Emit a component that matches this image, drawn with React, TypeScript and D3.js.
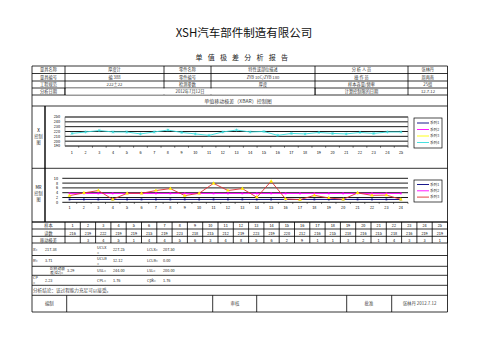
import React from "react";
import * as d3 from "d3";

// ---------- data ----------
const samples = d3.range(1, 26).map(String);
const readings = [216, 219, 222, 219, 219, 215, 219, 223, 218, 215, 212, 219, 223, 219, 220, 212, 216, 215, 218, 216, 215, 218, 216, 219, 219];
const mrSamples = d3.range(1, 25).map(String);
const mrValues = [2.8, 3.9, 4.9, 1.25, 3.75, 3.75, 4.9, 5.7, 2.8, 3.75, 7.9, 4.9, 5.7, 2.1, 8.75, 1.4, 1.1, 2.9, 1.8, 1.25, 3.9, 2.9, 3.0, 1.25];
const mrTable = ["", "3", "4", "5", "1", "4", "4", "5", "6", "3", "4", "8", "5", "6", "2", "9", "1", "1", "3", "2", "1", "4", "3", "3", "1"];
const xTicks = [190, 200, 210, 220, 230, 240, 250];
const mrTicks = [0, 2, 4, 6, 8, 10];
const mrLcl = 1.2;
const mrCl = 3.71;
const xLegend = ["系列1", "系列2", "系列3", "系列4"];
const mrLegend = ["系列1", "系列2", "系列3"];

const headerRows = [
  ["量具名称", "厚度计", "零件名称", "特性或部位描述", "分 析 人 员", "张林丹"],
  ["量具编号", "编 388", "零件编号", "ZYB 10C/ZYB 180", "操 作 员", "周再南"],
  ["工程规范", "222±22", "检测参数", "厚度", "样本容量/频率", "25组"],
];

const FONT = "'Noto Sans CJK SC', 'DejaVu Sans', sans-serif";
const SERIF = "'Noto Sans CJK SC', serif";
const TXT = "#333";

export default function App() {
  const L = 32, R = 447.5;
  const cols = [32, 65, 164, 211, 315, 408, 447.5];
  const rowsY = [66, 73.5, 81, 88, 95, 106];
  const fs = 4.2;

  // X chart
  const x1 = d3.scalePoint<string>().domain(samples).range([65, 408]).padding(0.5);
  const y1 = d3.scaleLinear().domain([190, 250]).range([146, 117]);
  const line1 = d3.line<number>().x((_, i) => x1(samples[i])!).y((d) => y1(d));

  // MR chart
  const x2 = d3.scalePoint<string>().domain(mrSamples).range([62.3, 408]).padding(0.5);
  const y2 = d3.scaleLinear().domain([0, 10]).range([202.3, 178.3]);
  const line2 = d3.line<number>().x((_, i) => x2(mrSamples[i])!).y((d) => y2(d));

  const tableCols = d3.scaleBand<string>().domain(samples).range([65, R]);
  const bRows = [222, 229, 236.3, 243, 255.5, 266.3, 275.3, 285.3, 295.3, 312];

  const star = (cx: number, cy: number, s: number) =>
    `M${cx - s},${cy - s}L${cx + s},${cy + s}M${cx - s},${cy + s}L${cx + s},${cy - s}M${cx},${cy - s * 1.3}L${cx},${cy + s * 1.3}`;

  return (
    <svg width={503} height={356} style={{ position: "absolute", left: 0, top: 0, background: "#fff" }}>
      <text x={244} y={37} fontSize={11.5} textAnchor="middle" fontFamily={FONT} fill="#111">XSH汽车部件制造有限公司</text>
      {"单值极差分析报告".split("").map((c, i) => (
        <text key={i} x={199 + i * 12.2} y={60} fontSize={7} textAnchor="middle" fontFamily={SERIF} fill="#222">{c}</text>
      ))}

      {/* header table */}
      <g stroke="#000" strokeWidth={0.8}>
        {rowsY.map((y, i) => <line key={i} x1={L} x2={R} y1={y} y2={y} />)}
        {cols.map((x, i) => (
          <line key={i} x1={x} x2={x} y1={66} y2={i === 0 || i === cols.length - 1 ? 106 : 95} />
        ))}
      </g>
      <rect x={65.5} y={88.5} width={249} height={6} fill="#fff" />
      <line x1={65} x2={65} y1={88} y2={95} stroke="#000" strokeWidth={0.8} />
      <line x1={315} x2={315} y1={88} y2={95} stroke="#000" strokeWidth={0.8} />
      {headerRows.map((row, ri) =>
        row.map((t, ci) => (
          <text key={ri + "-" + ci} x={(cols[ci] + cols[ci + 1]) / 2} y={rowsY[ri] + 5.2} fontSize={fs} textAnchor="middle" fontFamily={FONT} fill={TXT}>{t}</text>
        ))
      )}
      <text x={48.5} y={93.2} fontSize={fs} textAnchor="middle" fontFamily={FONT} fill={TXT}>分析日期</text>
      <text x={190} y={93.2} fontSize={fs} textAnchor="middle" fontFamily={FONT} fill={TXT}>2012年7月12日</text>
      <text x={361.5} y={93.2} fontSize={fs} textAnchor="middle" fontFamily={FONT} fill={TXT}>计算控制限的日期</text>
      <text x={428} y={93.2} fontSize={fs} textAnchor="middle" fontFamily={FONT} fill={TXT}>12.7.12</text>
      <text x={238} y={102.5} fontSize={5} textAnchor="middle" fontFamily={FONT} fill="#444">单值移动极差（XBAR）控制图</text>

      {/* chart section frames */}
      <g stroke="#000" strokeWidth={0.8} fill="none">
        <line x1={L} x2={L} y1={106} y2={312} />
        <line x1={R} x2={R} y1={106} y2={312} />
        <line x1={45} x2={45} y1={106} y2={222} strokeWidth={1.4} />
        <line x1={L} x2={R} y1={168.3} y2={168.3} />
        <line x1={L} x2={R} y1={222} y2={222} />
      </g>
      <text x={38.5} y={132} fontSize={4.5} textAnchor="middle" fontFamily={FONT}>X</text>
      <text x={38.5} y={137.5} fontSize={4.2} textAnchor="middle" fontFamily={FONT} fill="#444">控制</text>
      <text x={38.5} y={143.5} fontSize={4.2} textAnchor="middle" fontFamily={FONT} fill="#444">图</text>
      <text x={38.5} y={189} fontSize={4.2} textAnchor="middle" fontFamily={FONT}>MR</text>
      <text x={38.5} y={194.5} fontSize={4.2} textAnchor="middle" fontFamily={FONT} fill="#444">控制</text>
      <text x={38.5} y={200.5} fontSize={4.2} textAnchor="middle" fontFamily={FONT} fill="#444">图</text>

      {/* X chart */}
      <g>
        {xTicks.map((t) => (
          <g key={t}>
            <line x1={65} x2={408} y1={y1(t)} y2={y1(t)} stroke="#000" strokeWidth={0.9} />
            <text x={60} y={y1(t) + 1.4} fontSize={3.8} textAnchor="end" fontFamily={FONT}>{t}</text>
          </g>
        ))}
        <rect x={65} y={117} width={343} height={29} fill="none" stroke="#555" strokeWidth={0.6} />
        {samples.map((s) => (
          <g key={s}>
            <line x1={x1(s)! + x1.step() / 2} x2={x1(s)! + x1.step() / 2} y1={146} y2={147.8} stroke="#000" strokeWidth={0.5} />
            <text x={x1(s)} y={154} fontSize={3.8} textAnchor="middle" fontFamily={FONT}>{s}</text>
          </g>
        ))}
        <path d={line1(readings) || ""} fill="none" stroke="#33dddd" strokeWidth={0.9} />
        {readings.map((v, i) => (
          <path key={i} d={star(x1(samples[i])!, y1(v), 1.2)} stroke="#33dddd" strokeWidth={0.6} />
        ))}
        <rect x={414} y={118} width={28} height={30} fill="#fff" stroke="#000" strokeWidth={0.7} />
        {xLegend.map((t, i) => {
          const c = ["#000080", "#ff00ff", "#ffff00", "#33dddd"][i];
          const yy = 123 + i * 6.5;
          return (
            <g key={t}>
              <line x1={417} x2={429} y1={yy} y2={yy} stroke={c} strokeWidth={0.9} />
              <text x={430} y={yy + 1.3} fontSize={3.6} fontFamily={FONT} fill="#333">{t}</text>
            </g>
          );
        })}
      </g>

      {/* MR chart */}
      <g>
        {mrTicks.map((t) => (
          <g key={t}>
            <line x1={62.3} x2={408} y1={y2(t)} y2={y2(t)} stroke="#000" strokeWidth={0.9} />
            <text x={58} y={y2(t) + 1.4} fontSize={3.8} textAnchor="end" fontFamily={FONT}>{t}</text>
          </g>
        ))}
        {mrSamples.map((s) => (
          <g key={s}>
            <line x1={x2(s)! + x2.step() / 2} x2={x2(s)! + x2.step() / 2} y1={202.3} y2={204} stroke="#000" strokeWidth={0.5} />
            <text x={x2(s)} y={209} fontSize={3.8} textAnchor="middle" fontFamily={FONT}>{s}</text>
          </g>
        ))}
        <line x1={x2(mrSamples[0])} x2={x2(mrSamples[23])} y1={y2(mrLcl)} y2={y2(mrLcl)} stroke="#000080" strokeWidth={1} />
        {mrSamples.map((s) => <rect key={s} x={x2(s)! - 0.9} y={y2(mrLcl) - 0.9} width={1.8} height={1.8} fill="#000080" />)}
        <line x1={x2(mrSamples[0])} x2={x2(mrSamples[23])} y1={y2(mrCl)} y2={y2(mrCl)} stroke="#ff00ff" strokeWidth={1} />
        {mrSamples.map((s) => <rect key={s} x={x2(s)! - 0.9} y={y2(mrCl) - 0.9} width={1.8} height={1.8} fill="#ff00ff" />)}
        <path d={line2(mrValues) || ""} fill="none" stroke="#e03030" strokeWidth={0.9} />
        {mrValues.map((v, i) => (
          <path key={i} d={d3.symbol(d3.symbolTriangle, 6)()!} transform={`translate(${x2(mrSamples[i])},${y2(v)})`} fill="#ffee00" />
        ))}
        <rect x={414} y={180} width={28} height={22} fill="#fff" stroke="#000" strokeWidth={0.7} />
        {mrLegend.map((t, i) => {
          const c = ["#000080", "#ff00ff", "#e03030"][i];
          const yy = 184.5 + i * 6.3;
          return (
            <g key={t}>
              <line x1={417} x2={429} y1={yy} y2={yy} stroke={c} strokeWidth={0.9} />
              <text x={430} y={yy + 1.3} fontSize={3.6} fontFamily={FONT} fill="#333">{t}</text>
            </g>
          );
        })}
      </g>

      {/* bottom table */}
      <g stroke="#000" strokeWidth={0.8}>
        {bRows.map((y, i) => <line key={i} x1={L} x2={R} y1={y} y2={y} />)}
        <line x1={65} x2={65} y1={222} y2={243} />
        {samples.map((s) => <line key={s} x1={tableCols(s)! + tableCols.bandwidth()} x2={tableCols(s)! + tableCols.bandwidth()} y1={222} y2={243} />)}
        {[66.7, 212.7, 256.7, 346.7, 391.7].map((x) => <line key={x} x1={x} x2={x} y1={295.3} y2={312} />)}
      </g>
      <text x={48.5} y={227.3} fontSize={fs} textAnchor="middle" fontFamily={FONT} fill={TXT}>样本</text>
      <text x={48.5} y={234.5} fontSize={fs} textAnchor="middle" fontFamily={FONT} fill={TXT}>读数</text>
      <text x={48.5} y={241.5} fontSize={fs} textAnchor="middle" fontFamily={FONT} fill={TXT}>移动极差</text>
      {samples.map((s, i) => {
        const cx = tableCols(s)! + tableCols.bandwidth() / 2;
        return (
          <g key={s} fontSize={3.8} textAnchor="middle" fontFamily={FONT}>
            <text x={cx} y={227.3}>{s}</text>
            <text x={cx} y={234.5}>{readings[i]}</text>
            <text x={cx} y={241.5}>{mrTable[i]}</text>
          </g>
        );
      })}
      <g fontSize={3.8} fontFamily={FONT} fill="#222">
        <text x={33} y={251}>X̄=</text><text x={45} y={251}>217.38</text>
        <text x={97} y={249}>UCLX</text><text x={97} y={253.5}>=</text><text x={113} y={251}>227.25</text>
        <text x={147} y={251}>LCLX=</text><text x={163} y={251}>207.50</text>
        <text x={33} y={262}>R̄=</text><text x={45} y={262}>3.71</text>
        <text x={97} y={260}>UCLR</text><text x={97} y={264.5}>=</text><text x={113} y={262}>12.12</text>
        <text x={147} y={262}>LCLR=</text><text x={163} y={262}>0.00</text>
        <text x={50} y={270}>σ(移动极</text><text x={50} y={274}>差/d2)=</text><text x={67} y={272}>3.29</text>
        <text x={97} y={272}>USL=</text><text x={113} y={272}>244.00</text>
        <text x={147} y={272}>LSL=</text><text x={163} y={272}>200.00</text>
        <text x={33} y={279}>CP</text><text x={33} y={283.5}>=</text><text x={45} y={281.5}>2.23</text>
        <text x={97} y={281.5}>CPL=</text><text x={113} y={281.5}>1.76</text>
        <text x={147} y={281.5}>Cpk=</text><text x={163} y={281.5}>1.76</text>
        <text x={33} y={291.8} fontSize={4.6} fill="#444">分析结论：该过程能力充足可以接受。</text>
      </g>
      <g fontSize={4.4} textAnchor="middle" fontFamily={FONT} fill="#444">
        <text x={49.3} y={305}>编制</text>
        <text x={235} y={305}>审核</text>
        <text x={369} y={305}>批准</text>
        <text x={419.5} y={305}>张林丹 2012.7.12</text>
      </g>
    </svg>
  );
}
